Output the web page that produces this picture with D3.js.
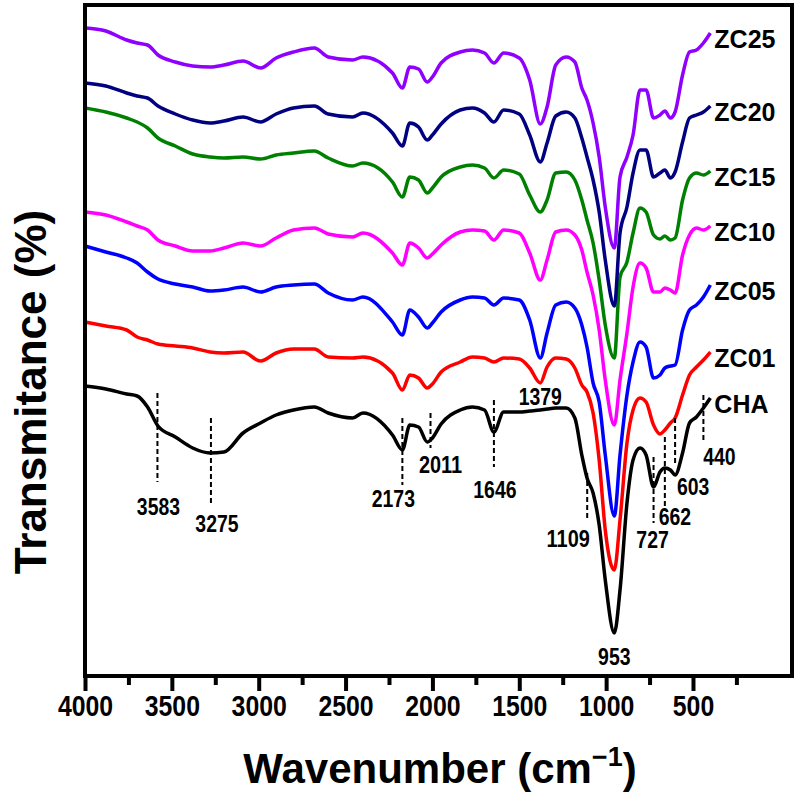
<!DOCTYPE html>
<html>
<head>
<meta charset="utf-8">
<script src="https://cdn.jsdelivr.net/npm/d3@7"></script>
<style>
  body { margin: 0; background: #fff; }
  svg { display: block; }
</style>
</head>
<body>
<div id="chart"></div>
<script>
// wavenumber grid (cm-1), shared by all spectra
const wavenumbers = [4000, 3880, 3760, 3700, 3640, 3580, 3480, 3380, 3280, 3200,
  3090, 2990, 2900, 2800, 2680, 2600, 2460, 2400, 2230, 2173,
  2130, 2080, 2030, 2000, 1950, 1840, 1770, 1700, 1646, 1590,
  1500, 1440, 1379, 1340, 1290, 1230, 1180, 1140, 1110, 1075,
  1040, 1005, 953, 920, 880, 845, 805, 770, 727, 690,
  662, 630, 603, 560, 520, 480, 440, 400];

// transmittance (%, stacked with offsets as in the figure)
const cha = [58.0, 57.4, 56.4, 56.0, 53.8, 50.0, 47.8, 45.6, 44.6, 44.8,
  48.6, 50.6, 52.2, 53.2, 53.8, 52.6, 51.6, 52.6, 48.2, 45.2,
  50.2, 49.8, 46.8, 47.6, 50.4, 53.2, 53.8, 53.2, 48.8, 52.8,
  52.8, 53.0, 53.2, 53.4, 53.6, 53.6, 51.6, 44.2, 39.6, 36.6,
  30.2, 19.2, 8.6, 17.2, 34.6, 43.2, 45.6, 44.2, 37.8, 40.8,
  41.6, 41.2, 40.2, 44.6, 50.6, 51.8, 53.6, 55.6];
const zc01 = [70.8, 70.0, 69.2, 67.8, 67.2, 66.4, 66.0, 65.6, 64.8, 64.6,
  64.8, 63.0, 64.6, 65.4, 65.4, 63.8, 63.6, 63.8, 60.6, 57.2,
  60.2, 59.6, 57.6, 58.4, 60.8, 62.8, 63.8, 63.6, 62.8, 63.6,
  63.4, 61.6, 58.6, 61.8, 63.6, 63.4, 61.6, 58.2, 56.8, 52.6,
  43.2, 29.2, 21.2, 31.2, 46.6, 53.2, 55.6, 54.8, 50.2, 48.4,
  49.2, 50.6, 51.6, 56.2, 60.2, 61.8, 63.2, 64.8];
const zc05 = [86.0, 84.8, 83.6, 82.6, 80.8, 79.4, 78.4, 77.8, 77.0, 77.2,
  77.8, 76.8, 77.8, 78.2, 78.4, 76.6, 75.2, 75.8, 70.8, 68.2,
  73.2, 71.8, 69.6, 70.6, 72.8, 75.2, 75.8, 75.6, 74.2, 75.6,
  75.2, 71.2, 63.6, 68.6, 74.2, 74.8, 73.6, 70.2, 65.8, 58.6,
  54.8, 44.2, 32.0, 44.2, 56.2, 62.8, 66.8, 65.8, 59.6, 60.2,
  61.6, 62.0, 62.2, 69.2, 73.2, 74.2, 75.8, 78.2];
const zc10 = [92.8, 92.2, 90.8, 90.0, 89.2, 87.2, 86.0, 85.0, 85.0, 85.6,
  86.6, 86.0, 87.6, 89.2, 89.6, 88.4, 87.8, 88.6, 84.6, 82.2,
  86.6, 85.6, 83.6, 84.4, 86.2, 88.8, 89.2, 89.0, 87.2, 89.2,
  88.6, 84.6, 79.2, 83.2, 88.8, 89.2, 88.2, 85.2, 80.8, 76.2,
  69.2, 59.2, 50.2, 59.2, 68.6, 77.8, 82.6, 81.6, 76.8, 76.8,
  77.6, 77.2, 76.6, 84.2, 88.2, 89.6, 89.2, 90.0];
const zc15 = [113.6, 112.8, 111.6, 110.8, 109.6, 107.6, 106.0, 104.4, 103.8, 103.6,
  103.8, 103.4, 104.2, 104.6, 105.0, 103.6, 102.0, 102.6, 98.8, 95.8,
  99.8, 99.2, 96.6, 97.6, 99.8, 101.8, 102.2, 101.6, 99.6, 101.2,
  100.4, 96.2, 92.8, 95.2, 100.6, 100.8, 99.2, 95.2, 91.2, 86.6,
  79.2, 70.2, 63.6, 79.8, 82.8, 88.6, 93.6, 92.8, 88.2, 87.4,
  88.0, 87.2, 87.6, 95.2, 99.6, 100.6, 100.2, 101.0];
const zc20 = [118.6, 118.0, 116.6, 116.0, 115.6, 114.0, 112.4, 111.2, 110.6, 111.0,
  111.8, 110.8, 112.4, 113.6, 114.0, 112.4, 111.8, 112.6, 108.6, 106.0,
  110.6, 109.8, 107.2, 108.2, 110.4, 113.2, 113.6, 112.6, 110.8, 113.2,
  112.4, 108.2, 102.8, 106.6, 112.0, 112.8, 111.6, 107.6, 103.8, 99.2,
  92.8, 83.2, 74.0, 88.6, 93.8, 100.6, 105.2, 105.2, 99.8, 100.6,
  101.2, 99.6, 100.8, 106.8, 111.6, 112.2, 112.8, 114.0];
const zc25 = [129.6, 129.0, 127.2, 126.6, 126.2, 124.2, 122.8, 122.0, 121.8, 122.2,
  123.0, 121.6, 123.6, 124.8, 125.6, 123.8, 123.2, 123.8, 120.6, 117.6,
  121.8, 121.4, 118.8, 119.8, 122.6, 124.8, 125.2, 124.6, 122.6, 124.6,
  123.6, 119.2, 110.4, 113.8, 122.2, 123.8, 122.8, 117.6, 115.2, 110.6,
  103.8, 93.8, 85.6, 99.8, 103.8, 108.2, 117.2, 117.2, 111.6, 112.2,
  113.0, 111.6, 112.8, 120.2, 124.8, 125.2, 126.6, 128.6];

const seriesNames = ["CHA", "ZC01", "ZC05", "ZC10", "ZC15", "ZC20", "ZC25"];
const seriesValues = [cha, zc01, zc05, zc10, zc15, zc20, zc25];
const seriesColors = ["#000000", "#ff0000", "#0000ff", "#ff00ff", "#008000", "#000080", "#8f00ff"];

const majorTicks = [4000, 3500, 3000, 2500, 2000, 1500, 1000, 500];
const minorTicks = [3750, 3250, 2750, 2250, 1750, 1250, 750, 250];

// band positions marked on the CHA spectrum
const peakWavenumbers = [3583, 3275, 2173, 2011, 1646, 1379, 1109, 953, 727, 662, 603, 440];
// layout for the markers: dashed line top/bottom (px), label dx and baseline (px)
const peakLayout = [
  { y1: 393, y2: 482, dx: 1, ly: 515 },
  { y1: 418, y2: 505, dx: 6, ly: 532 },
  { y1: 418, y2: 485, dx: -9, ly: 507 },
  { y1: 413, y2: 448, dx: 10, ly: 473 },
  { y1: 400, y2: 467, dx: 1, ly: 498 },
  { y1: null, y2: null, dx: 0, ly: 405 },
  { y1: 473, y2: 520, dx: -19, ly: 547 },
  { y1: null, y2: null, dx: 0, ly: 665 },
  { y1: 457, y2: 523, dx: -1, ly: 548 },
  { y1: 437, y2: 510, dx: 10, ly: 525 },
  { y1: 418, y2: 465, dx: 18, ly: 495 },
  { y1: 395, y2: 440, dx: 16, ly: 465 }
];

const W = 800, H = 805;
const margin = { top: 5, right: 8, bottom: 129, left: 85 };
const font = "'Liberation Sans', Arial, Helvetica, sans-serif";

const svg = d3.select("#chart").append("svg")
  .attr("width", W).attr("height", H)
  .style("font-family", font);

const x = d3.scaleLinear()
  .domain([4000, -70])
  .range([margin.left, W - margin.right]);

const y = d3.scaleLinear()
  .domain([0, 134.2])
  .range([H - margin.bottom, margin.top]);

// spectra
const line = d3.line()
  .x((d, i) => x(wavenumbers[i]))
  .y(d => y(d))
  .curve(d3.curveMonotoneX);

svg.append("g").selectAll("path")
  .data(seriesValues)
  .join("path")
  .attr("fill", "none")
  .attr("stroke", (d, i) => seriesColors[i])
  .attr("stroke-width", 3.5)
  .attr("stroke-linejoin", "round")
  .attr("d", line);

// series names at the end of each spectrum
const last = wavenumbers.length - 1;
svg.append("g").selectAll("text")
  .data(seriesValues)
  .join("text")
  .attr("x", x(wavenumbers[last]) + 4)
  .attr("y", d => y(d[last]) + 6)
  .attr("dy", "0.35em")
  .style("font-size", "25px")
  .style("font-weight", "bold")
  .text((d, i) => seriesNames[i]);

// peak markers
const peaks = svg.append("g");
peaks.selectAll("line")
  .data(peakWavenumbers.filter((d, i) => peakLayout[i].y1 !== null))
  .join("line")
  .attr("x1", d => x(d)).attr("x2", d => x(d))
  .attr("y1", d => peakLayout[peakWavenumbers.indexOf(d)].y1)
  .attr("y2", d => peakLayout[peakWavenumbers.indexOf(d)].y2)
  .attr("stroke", "#000")
  .attr("stroke-width", 2)
  .attr("stroke-dasharray", "5,3");

// numbers in the figure are set in a narrow face: squeeze them with textLength
peaks.selectAll("text")
  .data(peakWavenumbers)
  .join("text")
  .attr("x", (d, i) => x(d) + peakLayout[i].dx)
  .attr("y", (d, i) => peakLayout[i].ly)
  .attr("text-anchor", "middle")
  .attr("textLength", d => String(d).length * 10.8)
  .attr("lengthAdjust", "spacingAndGlyphs")
  .style("font-size", "23px")
  .style("font-weight", "bold")
  .text(d => d);

// frame
svg.append("rect")
  .attr("x", margin.left).attr("y", margin.top)
  .attr("width", W - margin.left - margin.right)
  .attr("height", H - margin.top - margin.bottom)
  .attr("fill", "none")
  .attr("stroke", "#000")
  .attr("stroke-width", 4);

// x axis
const xAxis = svg.append("g")
  .attr("transform", `translate(0,${H - margin.bottom})`)
  .call(d3.axisBottom(x).tickValues(majorTicks).tickSize(15).tickPadding(4).tickFormat(d3.format("d")));
xAxis.select(".domain").remove();
xAxis.selectAll(".tick line").attr("stroke-width", 4);
xAxis.selectAll(".tick text")
  .attr("textLength", d => String(d).length * 13.8)
  .attr("lengthAdjust", "spacingAndGlyphs")
  .style("font-family", font)
  .style("font-size", "30px")
  .style("font-weight", "bold");

const xMinor = svg.append("g")
  .attr("transform", `translate(0,${H - margin.bottom})`)
  .call(d3.axisBottom(x).tickValues(minorTicks).tickSize(9).tickFormat(""));
xMinor.select(".domain").remove();
xMinor.selectAll(".tick line").attr("stroke-width", 4);

// axis titles
const xTitle = svg.append("text")
  .attr("x", 440).attr("y", 783)
  .attr("text-anchor", "middle")
  .style("font-size", "42px")
  .style("font-weight", "bold");
xTitle.append("tspan").text("Wavenumber (cm");
xTitle.append("tspan").attr("dy", -17).style("font-size", "27px").text("\u22121");
xTitle.append("tspan").attr("dy", 17).text(")");

svg.append("text")
  .attr("transform", "translate(46,392) rotate(-90)")
  .attr("text-anchor", "middle")
  .style("font-size", "44px")
  .style("font-weight", "bold")
  .text("Transmitance (%)");
</script>
</body>
</html>
